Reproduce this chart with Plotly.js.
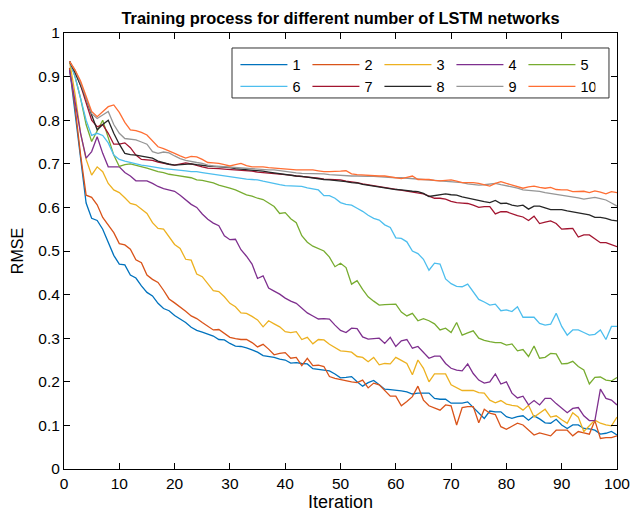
<!DOCTYPE html>
<html><head><meta charset="utf-8">
<script src="https://cdn.plot.ly/plotly-3.0.1.min.js"></script>
<style>html,body{margin:0;padding:0;background:#fff}#chart{width:630px;height:522px}</style>
</head><body><div id="chart"></div>
<script>
const seriesNames = ['1','2','3','4','5','6','7','8','9','10'];
const seriesColors = ['#0072BD','#D95319','#EDB120','#7E2F8E','#77AC30','#4DBEEE','#A2142F','#262626','#969696','#FF6E33'];

const s1 = [0.92,0.82,0.71,0.61,0.575,0.57,0.55,0.52,0.49,0.47,0.468,0.445,0.438,0.42,0.405,0.397,0.38,0.368,0.363,0.352,0.344,0.336,0.325,0.318,0.314,0.31,0.305,0.297,0.296,0.288,0.282,0.281,0.278,0.273,0.268,0.26,0.258,0.256,0.252,0.25,0.243,0.244,0.242,0.241,0.23,0.228,0.227,0.225,0.218,0.209,0.21,0.212,0.2,0.19,0.198,0.203,0.193,0.183,0.182,0.181,0.179,0.177,0.172,0.174,0.174,0.174,0.162,0.16,0.16,0.151,0.151,0.151,0.154,0.141,0.128,0.116,0.133,0.131,0.131,0.12,0.116,0.12,0.122,0.112,0.122,0.115,0.106,0.105,0.114,0.101,0.093,0.101,0.101,0.093,0.092,0.089,0.08,0.082,0.086,0.078];
const s2 = [0.92,0.83,0.72,0.628,0.623,0.606,0.577,0.56,0.542,0.517,0.514,0.504,0.48,0.473,0.445,0.435,0.428,0.41,0.39,0.381,0.372,0.362,0.351,0.345,0.336,0.328,0.319,0.32,0.31,0.302,0.299,0.297,0.297,0.29,0.28,0.286,0.275,0.262,0.265,0.267,0.254,0.256,0.237,0.254,0.237,0.238,0.235,0.212,0.208,0.205,0.202,0.2,0.198,0.204,0.186,0.197,0.193,0.18,0.167,0.167,0.145,0.155,0.166,0.19,0.158,0.145,0.14,0.135,0.147,0.145,0.101,0.141,0.143,0.143,0.106,0.137,0.128,0.125,0.097,0.091,0.098,0.105,0.101,0.09,0.078,0.083,0.08,0.076,0.089,0.089,0.089,0.076,0.086,0.083,0.08,0.111,0.07,0.072,0.072,0.076];
const s3 = [0.935,0.86,0.77,0.71,0.674,0.693,0.682,0.655,0.64,0.634,0.622,0.609,0.606,0.596,0.586,0.565,0.552,0.55,0.533,0.515,0.506,0.481,0.479,0.447,0.441,0.425,0.409,0.407,0.395,0.38,0.372,0.358,0.357,0.35,0.342,0.326,0.34,0.333,0.326,0.315,0.313,0.315,0.297,0.302,0.287,0.297,0.296,0.286,0.278,0.271,0.27,0.268,0.258,0.256,0.246,0.256,0.239,0.242,0.241,0.256,0.249,0.242,0.216,0.25,0.231,0.2,0.218,0.218,0.218,0.193,0.186,0.18,0.18,0.18,0.175,0.174,0.158,0.152,0.157,0.149,0.146,0.144,0.135,0.146,0.119,0.128,0.137,0.119,0.122,0.113,0.105,0.129,0.119,0.086,0.099,0.112,0.105,0.101,0.099,0.119];
const s4 = [0.915,0.84,0.77,0.713,0.728,0.762,0.724,0.693,0.693,0.693,0.68,0.672,0.661,0.661,0.661,0.655,0.648,0.643,0.64,0.637,0.628,0.617,0.607,0.6,0.585,0.573,0.564,0.558,0.535,0.526,0.527,0.503,0.488,0.47,0.437,0.443,0.415,0.408,0.401,0.392,0.385,0.38,0.37,0.358,0.351,0.344,0.345,0.344,0.33,0.318,0.313,0.323,0.322,0.303,0.298,0.299,0.3,0.288,0.302,0.281,0.294,0.297,0.277,0.281,0.268,0.254,0.259,0.259,0.242,0.231,0.227,0.225,0.241,0.219,0.204,0.197,0.2,0.218,0.195,0.2,0.174,0.163,0.167,0.147,0.157,0.147,0.162,0.162,0.15,0.139,0.129,0.139,0.141,0.122,0.111,0.111,0.183,0.162,0.158,0.147];
const s5 = [0.935,0.9,0.85,0.79,0.751,0.775,0.8,0.76,0.72,0.694,0.698,0.7,0.697,0.693,0.69,0.686,0.682,0.68,0.676,0.674,0.672,0.671,0.668,0.663,0.662,0.659,0.656,0.651,0.648,0.644,0.64,0.635,0.629,0.626,0.621,0.618,0.61,0.602,0.586,0.588,0.574,0.565,0.535,0.52,0.511,0.505,0.5,0.486,0.464,0.472,0.462,0.424,0.432,0.412,0.395,0.385,0.376,0.377,0.378,0.378,0.36,0.351,0.357,0.34,0.345,0.34,0.333,0.319,0.323,0.313,0.336,0.307,0.312,0.317,0.3,0.295,0.292,0.29,0.29,0.284,0.287,0.271,0.274,0.258,0.282,0.254,0.256,0.265,0.264,0.241,0.242,0.247,0.235,0.227,0.195,0.21,0.211,0.204,0.202,0.21];
const s6 = [0.935,0.9,0.85,0.8,0.765,0.77,0.765,0.748,0.72,0.71,0.706,0.703,0.699,0.697,0.695,0.693,0.69,0.689,0.688,0.687,0.686,0.684,0.682,0.682,0.68,0.678,0.677,0.675,0.672,0.671,0.669,0.667,0.665,0.664,0.663,0.66,0.657,0.655,0.652,0.65,0.649,0.648,0.648,0.645,0.642,0.64,0.627,0.627,0.621,0.611,0.607,0.605,0.598,0.591,0.582,0.575,0.571,0.56,0.554,0.53,0.529,0.521,0.5,0.494,0.481,0.456,0.472,0.47,0.436,0.425,0.419,0.418,0.424,0.405,0.389,0.383,0.376,0.378,0.363,0.365,0.361,0.372,0.348,0.348,0.348,0.334,0.33,0.332,0.357,0.327,0.307,0.319,0.319,0.313,0.307,0.309,0.319,0.297,0.327,0.327];
const s7 = [0.935,0.91,0.88,0.84,0.8,0.785,0.79,0.77,0.745,0.745,0.748,0.737,0.72,0.71,0.709,0.708,0.704,0.701,0.699,0.697,0.7,0.702,0.7,0.696,0.693,0.69,0.69,0.689,0.688,0.687,0.686,0.686,0.684,0.683,0.681,0.68,0.679,0.677,0.676,0.675,0.674,0.672,0.671,0.67,0.668,0.667,0.665,0.664,0.663,0.663,0.66,0.659,0.657,0.654,0.652,0.65,0.648,0.646,0.644,0.641,0.64,0.637,0.635,0.633,0.631,0.626,0.621,0.621,0.619,0.614,0.611,0.61,0.609,0.605,0.6,0.602,0.602,0.585,0.59,0.59,0.585,0.581,0.578,0.57,0.58,0.563,0.566,0.569,0.563,0.55,0.551,0.552,0.532,0.537,0.537,0.528,0.519,0.519,0.515,0.51];
const s8 = [0.935,0.91,0.88,0.85,0.812,0.778,0.79,0.8,0.77,0.745,0.724,0.721,0.72,0.718,0.716,0.713,0.706,0.702,0.699,0.697,0.698,0.699,0.7,0.698,0.696,0.695,0.694,0.693,0.693,0.691,0.689,0.688,0.687,0.686,0.685,0.683,0.681,0.679,0.677,0.675,0.674,0.672,0.671,0.669,0.668,0.666,0.664,0.663,0.662,0.661,0.659,0.657,0.656,0.653,0.651,0.648,0.646,0.644,0.643,0.641,0.64,0.638,0.637,0.636,0.632,0.625,0.627,0.628,0.631,0.629,0.628,0.624,0.621,0.619,0.616,0.613,0.611,0.616,0.609,0.61,0.605,0.603,0.605,0.596,0.603,0.603,0.599,0.595,0.595,0.595,0.592,0.59,0.587,0.586,0.583,0.577,0.577,0.575,0.571,0.569];
const s9 = [0.935,0.915,0.885,0.85,0.815,0.804,0.812,0.82,0.79,0.77,0.758,0.756,0.755,0.75,0.745,0.728,0.724,0.727,0.725,0.718,0.712,0.708,0.705,0.703,0.701,0.697,0.695,0.694,0.693,0.692,0.691,0.69,0.689,0.688,0.687,0.687,0.686,0.686,0.684,0.682,0.68,0.679,0.678,0.678,0.677,0.678,0.677,0.675,0.674,0.674,0.673,0.672,0.672,0.671,0.671,0.671,0.67,0.669,0.669,0.668,0.668,0.667,0.667,0.665,0.664,0.663,0.662,0.661,0.66,0.659,0.658,0.657,0.654,0.653,0.651,0.652,0.653,0.655,0.652,0.65,0.647,0.644,0.64,0.639,0.638,0.637,0.634,0.632,0.63,0.628,0.626,0.625,0.622,0.619,0.621,0.623,0.62,0.617,0.61,0.603];
const s10 = [0.935,0.915,0.89,0.855,0.82,0.808,0.82,0.831,0.835,0.818,0.795,0.778,0.776,0.772,0.766,0.752,0.739,0.735,0.73,0.724,0.718,0.713,0.717,0.716,0.71,0.703,0.702,0.701,0.698,0.695,0.698,0.701,0.696,0.693,0.693,0.693,0.691,0.69,0.689,0.687,0.686,0.686,0.686,0.686,0.686,0.684,0.682,0.682,0.682,0.683,0.684,0.677,0.675,0.674,0.673,0.672,0.672,0.672,0.67,0.669,0.666,0.669,0.672,0.664,0.664,0.664,0.662,0.661,0.662,0.663,0.66,0.657,0.657,0.657,0.655,0.652,0.649,0.655,0.659,0.655,0.651,0.647,0.644,0.647,0.649,0.646,0.644,0.646,0.641,0.64,0.64,0.636,0.637,0.637,0.634,0.638,0.635,0.631,0.636,0.634];

const allSeries = [s1,s2,s3,s4,s5,s6,s7,s8,s9,s10];
const iterations = s1.map((_, i) => i + 1);

const FONT = 'Arial, "Liberation Sans", Helvetica, sans-serif';
const traces = allSeries.map((vals, k) => ({
  x: iterations, y: vals, type: 'scatter', mode: 'lines',
  name: seriesNames[k],
  line: {color: seriesColors[k], width: 1.3},
  legend: k < 5 ? 'legend' : 'legend2'
}));

const legendCommon = {
  orientation: 'h', xanchor: 'left', yanchor: 'top',
  bgcolor: 'rgba(0,0,0,0)', borderwidth: 0,
  font: {family: FONT, size: 14.5, color: '#000'},
  entrywidth: 10, entrywidthmode: 'pixels', itemwidth: 47,
  tracegroupgap: 0
};

const layout = {
  width: 630, height: 522,
  margin: {l: 64, r: 13, t: 33, b: 53, pad: 0},
  paper_bgcolor: '#fff', plot_bgcolor: '#fff',
  showlegend: true,
  title: {text: '<b>Training process for different number of LSTM networks</b>',
    font: {family: FONT, size: 16.4, color: '#000'}, x: 0.5, xref: 'paper', xanchor: 'center', y: 0.965, yanchor: 'middle'},
  xaxis: {range: [0, 100], dtick: 10, tick0: 0, ticks: 'inside', ticklen: 6, tickcolor: '#000',
    showline: true, linecolor: '#000', linewidth: 1, mirror: 'ticks', showgrid: false, zeroline: false,
    ticklabeloverflow: 'allow', automargin: false,
    tickfont: {family: FONT, size: 15.5, color: '#000'},
    title: {text: 'Iteration', font: {family: FONT, size: 18, color: '#000'}, standoff: 4}},
  yaxis: {range: [0, 1], dtick: 0.1, tick0: 0, ticks: 'inside', ticklen: 6, tickcolor: '#000',
    showline: true, linecolor: '#000', linewidth: 1, mirror: 'ticks', showgrid: false, zeroline: false,
    ticklabeloverflow: 'allow', automargin: false,
    tickfont: {family: FONT, size: 15.5, color: '#000'},
    title: {text: 'RMSE', font: {family: FONT, size: 16, color: '#000'}, standoff: 10}},
  legend: Object.assign({}, legendCommon, {x: 0.31, y: 0.964}),
  legend2: Object.assign({}, legendCommon, {x: 0.31, y: 0.914}),
  shapes: [{type: 'rect', xref: 'paper', yref: 'paper', x0: 0.3038, x1: 0.9855, y0: 0.851, y1: 0.9656,
    line: {color: '#333', width: 1}, fillcolor: '#fff', layer: 'above'}]
};

Plotly.newPlot('chart', traces, layout, {staticPlot: true, displayModeBar: false});
</script></body></html>
